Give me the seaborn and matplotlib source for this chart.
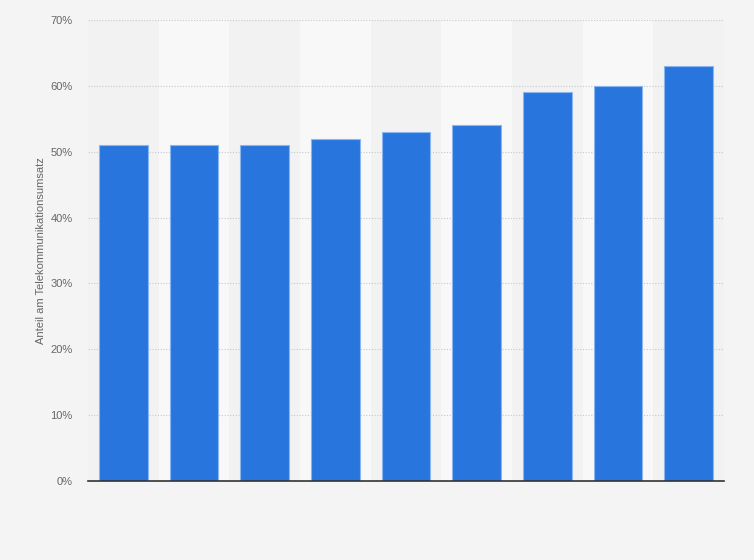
import matplotlib
matplotlib.use("Agg")
import matplotlib.pyplot as plt
import seaborn as sns
import pandas as pd
from matplotlib.ticker import FuncFormatter

categories = ["1", "2", "3", "4", "5", "6", "7", "8", "9"]
values = [51, 51, 51, 52, 53, 54, 59, 60, 63]
y_ticks = [0, 10, 20, 30, 40, 50, 60, 70]
y_label = "Anteil am Telekommunikationsumsatz"

df = pd.DataFrame({"cat": categories, "val": values})

sns.set_style("white")
plt.rcParams["font.family"] = ["Liberation Sans", "DejaVu Sans"]

fig = plt.figure(figsize=(7.54, 5.6), dpi=100, facecolor="#f4f4f4")
ax = fig.add_axes([88/754, 79/560, 636/754, 461/560])
ax.set_facecolor("#f2f2f2")

for i in range(len(categories)):
    if i % 2 == 1:
        ax.axvspan(i - 0.5, i + 0.5, color="#f8f8f8", zorder=0, lw=0)

sns.barplot(data=df, x="cat", y="val", ax=ax, color="#2876dd", saturation=1,
            width=0.69, edgecolor="#8bb5ee", linewidth=0.8, zorder=3)

ax.set_xlim(-0.5, len(categories) - 0.5)
ax.set_ylim(0, 70)
ax.set_yticks(y_ticks)
ax.yaxis.set_major_formatter(FuncFormatter(lambda v, p: f"{int(v)}%"))
ax.grid(axis="y", linestyle=(0, (1, 1.5)), color="#c8c8c8", linewidth=0.8, zorder=1)
ax.set_axisbelow(True)
ax.set_xticklabels([])
ax.tick_params(axis="x", length=0)
ax.tick_params(axis="y", length=0, labelsize=8, labelcolor="#666666", pad=11)
ax.set_xlabel("")
ax.set_ylabel(y_label, fontsize=8, color="#666666", labelpad=3)
for s in ["top", "right", "left"]:
    ax.spines[s].set_visible(False)
ax.spines["bottom"].set_color("#333333")
ax.spines["bottom"].set_linewidth(1.2)
ax.spines["bottom"].set_zorder(5)

fig.savefig("out.png", dpi=100, facecolor=fig.get_facecolor())
